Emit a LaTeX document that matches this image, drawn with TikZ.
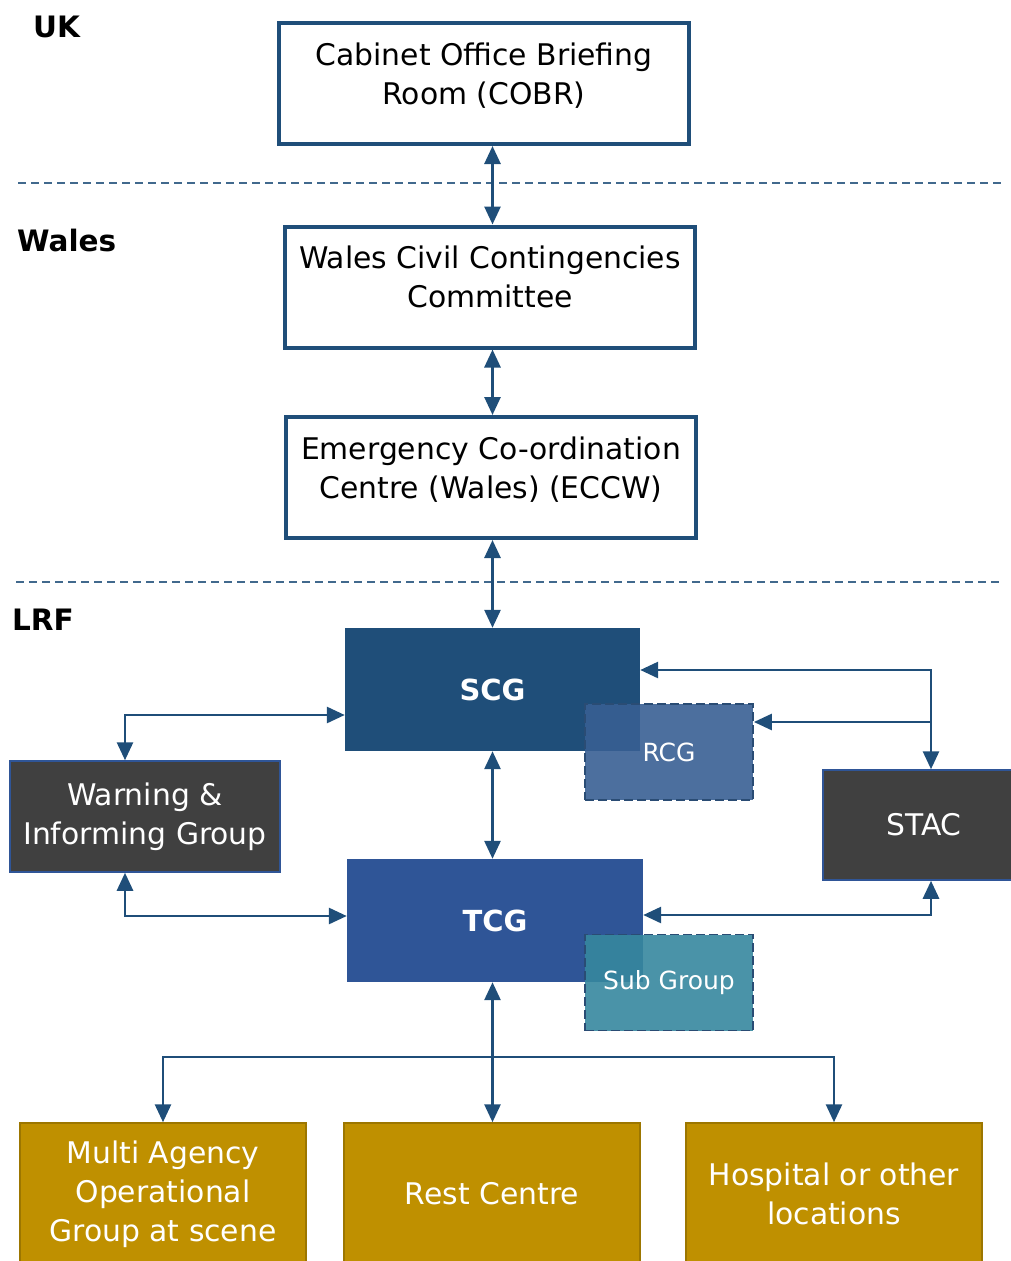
\documentclass[tikz,border=0pt]{standalone}
\usepackage{fontspec}
\setmainfont{DejaVu Sans}
\usetikzlibrary{arrows.meta}
\definecolor{navy}{HTML}{1F4E79}
\definecolor{tcgblue}{HTML}{2F5597}
\definecolor{darkgrey}{HTML}{404040}
\definecolor{gold}{HTML}{BF9000}
\definecolor{golddark}{HTML}{9C7600}
\definecolor{rcgblue}{HTML}{385F93}
\definecolor{subteal}{HTML}{36879E}
\definecolor{dashnavy}{HTML}{2A4C74}
\tikzset{
  txt/.style={font=\fontsize{29.8}{39}\selectfont, align=center},
  levelbox/.style={txt, draw=navy, line width=4pt, fill=white,
    minimum width=410pt, minimum height=121pt, text depth=20pt},
  cellbox/.style={txt, text=white, inner sep=0pt},
  groupbox/.style={cellbox, fill=darkgrey, draw=tcgblue, line width=1.5pt},
  venuebox/.style={cellbox, fill=gold, draw=golddark, line width=1.5pt,
    minimum width=286pt, minimum height=142pt},
  subbox/.style={cellbox, font=\fontsize{25}{30}\selectfont, draw=dashnavy,
    line width=1.8pt, dash pattern=on 9pt off 4pt, fill opacity=0.9,
    text opacity=1, minimum width=168pt, minimum height=96pt},
  tier/.style={font=\bfseries\fontsize{29.5}{34}\selectfont, anchor=base west, inner sep=0pt},
  sep/.style={draw=navy!85, line width=1.4pt, dash pattern=on 8pt off 5pt},
  arr/.style={draw=navy, line width=2.8pt, {Triangle[length=18pt,width=16pt]}-{Triangle[length=18pt,width=16pt]}},
  arrR/.style={draw=navy, line width=2.8pt, -{Triangle[length=18pt,width=16pt]}}
}
\begin{document}
\begin{tikzpicture}[x=1pt,y=-1pt]
  \useasboundingbox (0,0) rectangle (1010,1261);
  % 层级标签
  \node[tier] (uk) at (33,37) {UK};
  \node[tier] (wl) at (17,251) {Wales};
  \node[tier] (lrf) at (12,630) {LRF};
  % 分隔虚线
  \draw[sep] (18,183) -- (1005,183);
  \draw[sep] (16,582) -- (1003,582);
  % 上层框
  \node[levelbox] (cobr) at (484,83.5) {Cabinet Office Briefing\\Room (COBR)};
  \node[levelbox] (wcc) at (490,287) {Wales Civil Contingencies\\Committee};
  \node[levelbox] (eccw) at (491,477.5) {Emergency Co-ordination\\Centre (Wales) (ECCW)};
  % LRF 各组
  \node[cellbox, fill=navy, font=\bfseries\fontsize{29}{34}\selectfont,
    minimum width=295pt, minimum height=123pt] (scg) at (492.5,689.5) {SCG};
  \node[cellbox, fill=tcgblue, font=\bfseries\fontsize{29}{34}\selectfont,
    minimum width=296pt, minimum height=123pt] (tcg) at (495,920.5) {TCG};
  \node[subbox, fill=rcgblue] (rcg) at (669,752) {RCG};
  \node[subbox, fill=subteal] (sub) at (669,982.5) {Sub Group};
  \node[groupbox, minimum width=270pt, minimum height=111pt] (wig) at (145,816.5) {Warning \&\\Informing Group};
  \node[groupbox, minimum width=202pt, minimum height=110pt] (stac) at (924,825) {STAC};
  % 底部地点
  \node[venuebox] (maog) at (163,1194) {Multi Agency\\Operational\\Group at scene};
  \node[venuebox, minimum width=296pt] (rest) at (492,1194) {Rest Centre};
  \node[venuebox, minimum width=296pt] (hosp) at (834,1194) {Hospital or other\\locations};
  % 连接点
  \coordinate (sj) at (931,670);
  \coordinate (sk) at (931,722);
  \coordinate (sl) at (931,915);
  \coordinate (br) at (492.5,1057);
  % 竖向主干
  \draw[arr] (cobr.south -| scg) -- (wcc.north -| scg);
  \draw[arr] (wcc.south -| scg) -- (eccw.north -| scg);
  \draw[arr] (eccw.south -| scg) -- (scg.north);
  \draw[arr] (scg.south) -- (tcg.north -| scg);
  \draw[arr] (tcg.south -| scg) -- (rest.north -| scg);
  \draw[arr] (maog.north) |- (br) -| (hosp.north);
  % 左侧
  \draw[arr] ([xshift=-20pt]wig.north) |- ([yshift=-25.5pt]scg.west);
  \draw[arr] ([xshift=-20pt]wig.south) |- ([yshift=4.5pt]tcg.west);
  % 右侧 STAC
  \draw[arr] (scg.east |- sj) -- (sj) -- (stac.north -| sj);
  \draw[arrR] (sk) -- (rcg.east |- sk);
  \draw[arr] (stac.south -| sl) -- (sl) -- (tcg.east |- sl);
\end{tikzpicture}
\end{document}
